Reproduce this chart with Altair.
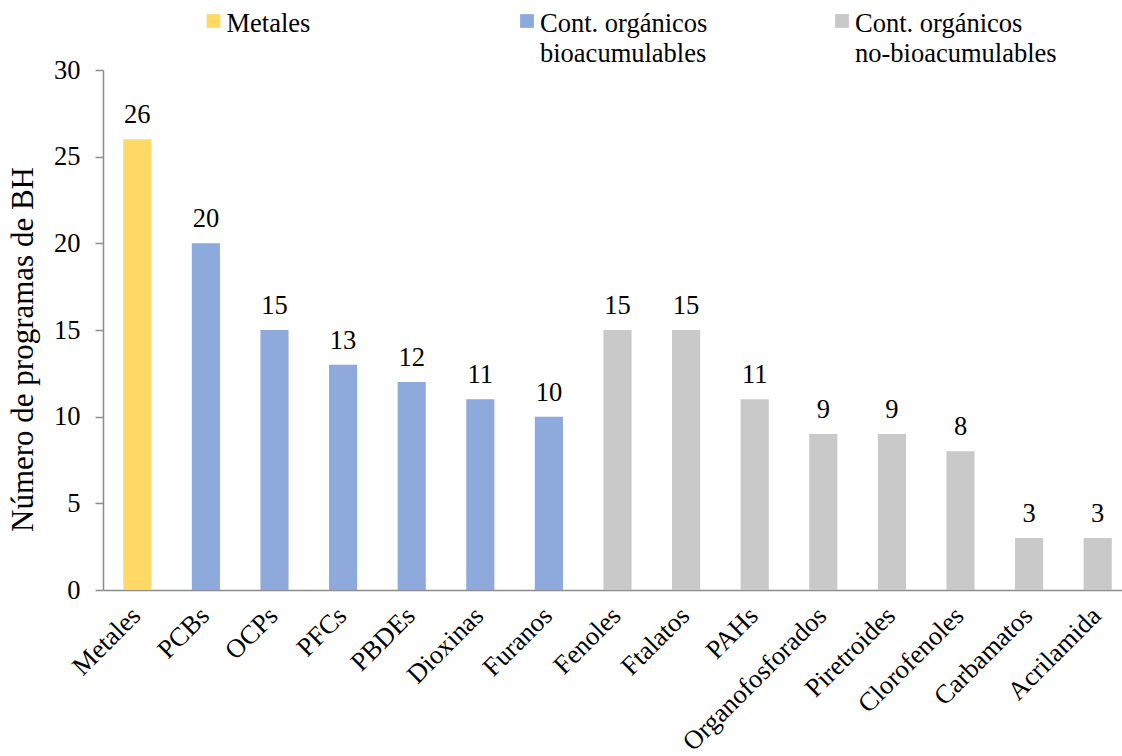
import altair as alt
import pandas as pd

# Contaminantes analizados y número de programas de biomonitorización humana (BH)
categorias = [
    "Metales", "PCBs", "OCPs", "PFCs", "PBDEs", "Dioxinas", "Furanos",
    "Fenoles", "Ftalatos", "PAHs", "Organofosforados", "Piretroides",
    "Clorofenoles", "Carbamatos", "Acrilamida",
]
programas = [26, 20, 15, 13, 12, 11, 10, 15, 15, 11, 9, 9, 8, 3, 3]

GRUPO_MET = "Metales"
GRUPO_BIO = "Cont. orgánicos bioacumulables"
GRUPO_NOBIO = "Cont. orgánicos no-bioacumulables"
grupos = [GRUPO_MET] + [GRUPO_BIO] * 6 + [GRUPO_NOBIO] * 8

grupo_orden = [GRUPO_MET, GRUPO_BIO, GRUPO_NOBIO]
grupo_colores = ["#FFD966", "#8EA9DB", "#C9C9C9"]
grupo_lineas = [["Metales"], ["Cont. orgánicos", "bioacumulables"],
                ["Cont. orgánicos", "no-bioacumulables"]]

eje_y_valores = [0, 5, 10, 15, 20, 25, 30]

FONT = "Liberation Serif"
FS = 26.5
GRIS_EJE = "#8C8C8C"

df = pd.DataFrame({"categoria": categorias, "programas": programas, "grupo": grupos})

x_enc = alt.X(
    "categoria:N",
    sort=categorias,
    scale=alt.Scale(range=[0, 1029], paddingInner=0.59, paddingOuter=0.295),
    axis=alt.Axis(
        title=None, labelAngle=-45, labelAlign="right", labelBaseline="top",
        labelFont=FONT, labelFontSize=FS, labelColor="black", labelPadding=12,
        labelOffset=-10, labelLimit=500,
        ticks=False, domainColor=GRIS_EJE, domainWidth=1.5,
    ),
)
y_enc = alt.Y(
    "programas:Q",
    scale=alt.Scale(domain=[0, 30], nice=False),
    axis=alt.Axis(
        values=eje_y_valores, grid=False,
        tickSize=8, tickColor=GRIS_EJE, tickWidth=1.5,
        domainColor=GRIS_EJE, domainWidth=1.5,
        labelFont=FONT, labelFontSize=FS, labelColor="black", labelPadding=15,
        title="Número de programas de BH", titleFont=FONT, titleFontSize=31,
        titleFontWeight="normal", titleColor="black", titleAngle=-90,
        titleX=-80, titleY=279, titleAlign="center", titleBaseline="middle",
    ),
)

base = alt.Chart(df).encode(x=x_enc, y=y_enc)

barras = base.mark_bar().encode(
    color=alt.Color("grupo:N", scale=alt.Scale(domain=grupo_orden, range=grupo_colores),
                    legend=None)
)
etiquetas = base.mark_text(
    dy=-16, baseline="alphabetic", font=FONT, fontSize=FS, color="black"
).encode(text="programas:Q")

# Leyenda superior dibujada a mano (cuadro de color + texto en una o dos líneas)
leyenda_x = [110.5, 424, 739]
capas_leyenda = []
for gx, color, lineas in zip(leyenda_x, grupo_colores, grupo_lineas):
    fuente = alt.Data(values=[{"k": 0}])
    cuadro = alt.Chart(fuente).mark_square(size=190, color=color, opacity=1).encode(
        x=alt.value(gx), y=alt.value(-49)
    )
    texto = alt.Chart(fuente).mark_text(
        text=lineas, align="left", baseline="alphabetic", font=FONT, fontSize=FS,
        lineHeight=30, color="black",
    ).encode(x=alt.value(gx + 13), y=alt.value(-38))
    capas_leyenda += [cuadro, texto]

chart = alt.layer(barras, etiquetas, *capas_leyenda).properties(
    width=1019,
    height=520,
    autosize=alt.AutoSizeParams(type="none"),
    padding={"left": 103, "top": 70, "right": 0, "bottom": 166},
).configure(background="white", font=FONT).configure_view(strokeWidth=0)

chart.save("out.html", embed_options={"renderer": "svg", "actions": False})
